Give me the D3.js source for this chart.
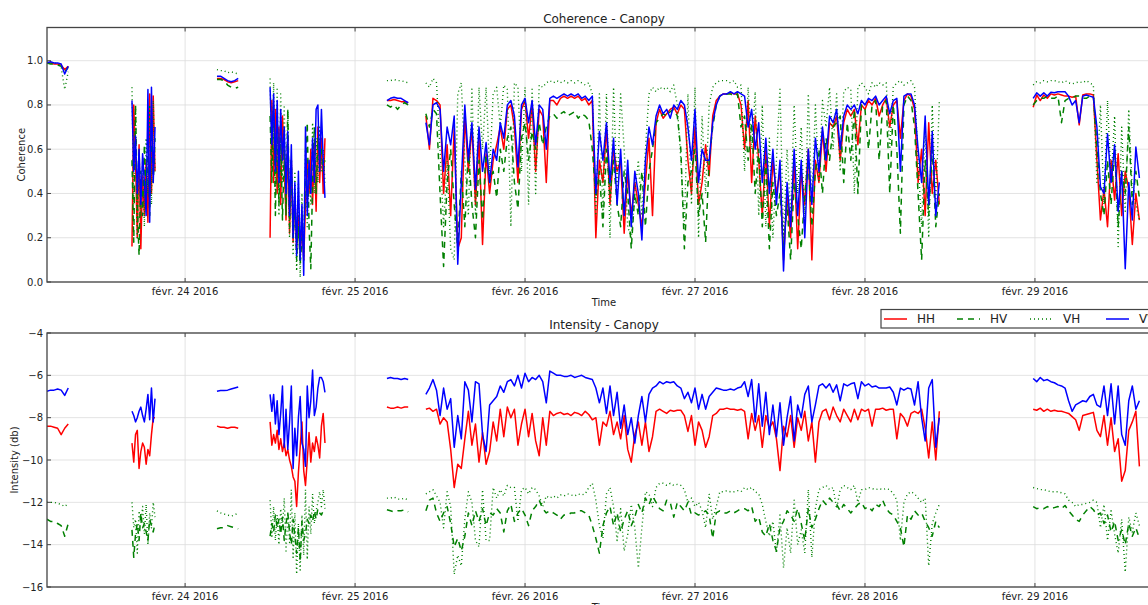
<!DOCTYPE html>
<html><head><meta charset="utf-8">
<script src="https://cdn.jsdelivr.net/npm/d3@7"></script>
<style>
body{margin:0;background:#fff;overflow:hidden}
svg{display:block;font-family:"DejaVu Sans",sans-serif}
</style>
</head><body>
<svg id="c" width="1148" height="605"></svg>
<script>
// ---------------- DATA ----------------
const seriesNames = ["HH", "HV", "VH", "VV"];
const segStart = ["2016-02-23T04:30:00Z", "2016-02-23T16:30:00Z", "2016-02-24T04:30:00Z",
  "2016-02-24T12:00:00Z", "2016-02-25T04:30:00Z", "2016-02-25T10:00:00Z", "2016-02-28T23:45:00Z"];
const segStepMin = [30, 15, 30, 15, 30, 30, 30];
const xDomain = ["2016-02-23T04:30:00Z", "2016-02-29T17:48:00Z"];
const xTickDates = ["2016-02-24T00:00:00Z", "2016-02-25T00:00:00Z", "2016-02-26T00:00:00Z",
  "2016-02-27T00:00:00Z", "2016-02-28T00:00:00Z", "2016-02-29T00:00:00Z"];
const xTickLabels = ["févr. 24 2016", "févr. 25 2016", "févr. 26 2016", "févr. 27 2016", "févr. 28 2016", "févr. 29 2016"];
const cohTicks = [0.0, 0.2, 0.4, 0.6, 0.8, 1.0];
const intTicks = [-16, -14, -12, -10, -8, -6, -4];

const cohHH = [
 [0.99,0.99,0.985,0.985,0.98,0.96,0.975],
 [0.16,0.80,0.55,0.20,0.62,0.15,0.48,0.30,0.55,0.27,0.85,0.40,0.84,0.50],
 [0.92,0.92,0.915,0.905,0.90,0.905,0.91],
 [0.20,0.82,0.45,0.78,0.40,0.70,0.35,0.75,0.55,0.28,0.65,0.22,0.55,0.18,0.40,0.15,0.30,0.12,0.25,0.10,0.35,0.55,0.40,0.60,0.35,0.62,0.32,0.70,0.45,0.65,0.40,0.65],
 [0.82,0.82,0.825,0.82,0.815,0.815,0.81],
 [0.75,0.60,0.83,0.82,0.80,0.40,0.62,0.30,0.70,0.15,
  0.20,0.75,0.50,0.70,0.35,0.65,0.17,0.58,0.40,0.55,
  0.62,0.70,0.60,0.78,0.80,0.70,0.45,0.78,0.82,0.65,
  0.80,0.50,0.78,0.75,0.45,0.82,0.82,0.80,0.83,0.84,
  0.83,0.84,0.83,0.84,0.82,0.83,0.80,0.82,0.20,0.55,
  0.45,0.70,0.35,0.60,0.50,0.55,0.22,0.50,0.30,0.45,
  0.35,0.25,0.45,0.65,0.30,0.72,0.78,0.74,0.76,0.78,
  0.79,0.76,0.80,0.78,0.55,0.40,0.70,0.35,0.45,0.62,
  0.48,0.75,0.82,0.84,0.85,0.85,0.855,0.85,0.85,0.80,
  0.60,0.82,0.45,0.75,0.55,0.30,0.60,0.25,0.55,0.40,
  0.50,0.10,0.40,0.20,0.55,0.15,0.50,0.35,0.60,0.10,
  0.55,0.45,0.68,0.50,0.72,0.70,0.75,0.55,0.72,0.78,
  0.75,0.78,0.62,0.80,0.78,0.82,0.80,0.83,0.75,0.80,
  0.83,0.70,0.80,0.82,0.65,0.82,0.85,0.84,0.78,0.45,
  0.60,0.30,0.72,0.40,0.55,0.35],
 [0.79,0.845,0.82,0.845,0.83,0.85,0.845,0.85,0.845,0.84,0.84,0.835,0.84,0.71,0.845,0.85,0.85,0.845,0.55,0.28,0.42,0.25,0.55,0.37,0.58,0.30,0.50,0.42,0.17,0.40,0.28]
];
const cohHV = [
 [0.99,0.985,0.985,0.98,0.975,0.95,0.97],
 [0.55,0.18,0.80,0.35,0.12,0.50,0.30,0.62,0.35,0.60,0.30,0.75,0.45,0.65],
 [0.915,0.915,0.91,0.89,0.88,0.875,0.88],
 [0.75,0.45,0.80,0.30,0.72,0.35,0.65,0.28,0.60,0.30,0.78,0.25,0.55,0.20,0.35,0.10,0.25,0.08,0.20,0.15,0.50,0.72,0.25,0.06,0.45,0.70,0.40,0.65,0.55,0.60,0.50,0.55],
 [0.80,0.79,0.80,0.78,0.80,0.81,0.80],
 [0.76,0.70,0.78,0.76,0.40,0.07,0.45,0.60,0.35,0.15,
  0.50,0.25,0.60,0.35,0.20,0.55,0.28,0.60,0.45,0.50,
  0.38,0.60,0.50,0.65,0.70,0.45,0.33,0.65,0.72,0.55,
  0.68,0.60,0.72,0.62,0.70,0.75,0.76,0.74,0.76,0.77,
  0.75,0.76,0.77,0.74,0.76,0.75,0.73,0.60,0.38,0.50,
  0.25,0.60,0.40,0.55,0.35,0.25,0.50,0.40,0.15,0.40,
  0.30,0.50,0.25,0.50,0.60,0.72,0.74,0.76,0.75,0.77,
  0.78,0.75,0.60,0.15,0.45,0.50,0.60,0.30,0.40,0.18,
  0.55,0.70,0.80,0.84,0.85,0.85,0.85,0.84,0.85,0.70,
  0.75,0.55,0.72,0.40,0.60,0.25,0.55,0.15,0.45,0.30,
  0.40,0.15,0.35,0.10,0.45,0.30,0.15,0.40,0.55,0.25,
  0.50,0.60,0.40,0.65,0.55,0.70,0.72,0.75,0.45,0.72,
  0.55,0.78,0.40,0.80,0.78,0.60,0.80,0.82,0.55,0.80,
  0.82,0.40,0.80,0.60,0.22,0.80,0.84,0.82,0.70,0.40,
  0.10,0.55,0.30,0.60,0.25,0.40],
 [0.80,0.82,0.83,0.83,0.84,0.83,0.83,0.84,0.72,0.82,0.83,0.83,0.84,0.84,0.83,0.83,0.84,0.84,0.62,0.40,0.30,0.55,0.35,0.60,0.25,0.50,0.40,0.70,0.35,0.50,0.38]
];
const cohVH = [
 [0.995,0.99,0.99,0.985,0.97,0.87,0.95],
 [0.88,0.35,0.78,0.20,0.60,0.30,0.55,0.25,0.65,0.40,0.80,0.35,0.82,0.50],
 [0.96,0.955,0.955,0.945,0.95,0.945,0.94],
 [0.92,0.50,0.90,0.40,0.88,0.30,0.85,0.45,0.80,0.35,0.78,0.20,0.55,0.12,0.50,0.05,0.45,0.02,0.40,0.10,0.60,0.25,0.50,0.35,0.72,0.40,0.65,0.45,0.70,0.50,0.60,0.45],
 [0.91,0.91,0.915,0.91,0.91,0.905,0.90],
 [0.90,0.88,0.92,0.90,0.60,0.25,0.55,0.15,0.10,0.85,
  0.90,0.55,0.30,0.88,0.30,0.88,0.60,0.88,0.50,0.85,
  0.88,0.70,0.89,0.87,0.25,0.90,0.88,0.50,0.88,0.35,
  0.88,0.40,0.89,0.88,0.90,0.91,0.90,0.91,0.90,0.91,
  0.90,0.91,0.90,0.91,0.90,0.89,0.90,0.85,0.30,0.85,
  0.30,0.85,0.20,0.88,0.40,0.85,0.60,0.25,0.20,0.40,
  0.55,0.30,0.60,0.85,0.88,0.86,0.88,0.87,0.88,0.86,
  0.89,0.80,0.55,0.25,0.85,0.35,0.88,0.20,0.75,0.40,
  0.80,0.88,0.90,0.91,0.91,0.91,0.90,0.91,0.88,0.89,
  0.50,0.88,0.60,0.86,0.30,0.80,0.25,0.65,0.20,0.55,
  0.88,0.20,0.60,0.30,0.80,0.40,0.70,0.25,0.85,0.35,
  0.80,0.45,0.82,0.70,0.88,0.60,0.85,0.50,0.86,0.88,
  0.87,0.40,0.88,0.90,0.88,0.85,0.90,0.88,0.90,0.89,
  0.90,0.60,0.88,0.90,0.91,0.89,0.90,0.91,0.88,0.55,
  0.25,0.70,0.20,0.80,0.35,0.82],
 [0.89,0.905,0.90,0.91,0.905,0.91,0.91,0.905,0.90,0.91,0.90,0.895,0.90,0.905,0.90,0.91,0.90,0.89,0.45,0.80,0.35,0.82,0.45,0.75,0.16,0.70,0.32,0.78,0.40,0.35,0.28]
];
const cohVV = [
 [0.99,0.995,0.99,0.99,0.985,0.94,0.975],
 [0.82,0.50,0.66,0.40,0.60,0.35,0.58,0.45,0.30,0.87,0.27,0.88,0.45,0.70],
 [0.93,0.93,0.92,0.91,0.905,0.91,0.92],
 [0.88,0.62,0.85,0.50,0.82,0.45,0.78,0.55,0.70,0.40,0.68,0.30,0.62,0.20,0.45,0.12,0.50,0.10,0.35,0.03,0.70,0.30,0.55,0.40,0.65,0.45,0.78,0.80,0.50,0.78,0.55,0.38],
 [0.82,0.83,0.835,0.83,0.83,0.82,0.81],
 [0.72,0.62,0.80,0.81,0.78,0.50,0.70,0.62,0.75,0.08,
  0.45,0.80,0.55,0.72,0.42,0.70,0.50,0.63,0.45,0.60,
  0.55,0.72,0.65,0.80,0.82,0.75,0.52,0.80,0.83,0.72,
  0.82,0.62,0.80,0.78,0.60,0.83,0.84,0.83,0.84,0.85,
  0.84,0.85,0.84,0.85,0.83,0.84,0.82,0.84,0.40,0.68,
  0.55,0.72,0.45,0.65,0.35,0.60,0.30,0.55,0.25,0.50,
  0.40,0.19,0.55,0.70,0.62,0.75,0.80,0.76,0.78,0.74,
  0.80,0.78,0.82,0.80,0.70,0.55,0.78,0.45,0.60,0.55,
  0.55,0.72,0.80,0.84,0.85,0.85,0.86,0.85,0.86,0.85,
  0.84,0.70,0.78,0.60,0.72,0.45,0.65,0.40,0.60,0.35,
  0.55,0.05,0.45,0.25,0.60,0.30,0.55,0.20,0.60,0.35,
  0.65,0.50,0.70,0.55,0.75,0.72,0.78,0.60,0.75,0.80,
  0.78,0.80,0.76,0.82,0.80,0.83,0.82,0.84,0.80,0.82,
  0.84,0.76,0.82,0.83,0.50,0.84,0.85,0.85,0.80,0.60,
  0.45,0.75,0.35,0.68,0.30,0.45],
 [0.83,0.855,0.84,0.855,0.84,0.857,0.855,0.86,0.86,0.86,0.84,0.80,0.82,0.72,0.84,0.845,0.84,0.835,0.70,0.43,0.40,0.67,0.45,0.62,0.32,0.50,0.06,0.45,0.28,0.61,0.47]
];

const intHH = [
 [-8.4,-8.4,-8.45,-8.5,-8.8,-8.5,-8.3],
 [-9.2,-10.1,-8.8,-8.6,-10.4,-9.6,-9.2,-9.4,-10.2,-9.5,-9.8,-8.8,-8.0,-8.0],
 [-8.4,-8.45,-8.45,-8.5,-8.45,-8.45,-8.5],
 [-8.2,-9.3,-8.8,-9.2,-8.6,-9.5,-9.0,-9.6,-9.2,-9.8,-9.5,-10.0,-10.3,-10.8,-11.0,-12.2,-10.6,-9.4,-8.2,-10.5,-11.2,-10.0,-8.7,-10.1,-9.2,-9.6,-8.9,-9.3,-9.9,-8.4,-7.8,-9.2],
 [-7.5,-7.55,-7.55,-7.5,-7.55,-7.5,-7.5],
 [-7.6,-7.55,-7.7,-7.6,-8.3,-8.0,-8.2,-9.5,-11.3,-10.2,
  -10.4,-9.0,-7.7,-9.3,-8.3,-10.1,-8.7,-10.2,-9.6,-8.2,
  -9.1,-7.6,-8.9,-7.5,-8.0,-7.6,-9.3,-8.3,-7.6,-8.9,
  -7.8,-9.1,-9.8,-8.0,-9.3,-7.7,-7.9,-7.8,-7.75,-7.85,
  -7.8,-7.9,-7.75,-7.8,-7.9,-7.7,-7.85,-8.1,-8.0,-9.3,
  -8.2,-8.4,-7.7,-8.8,-8.2,-9.0,-7.9,-9.5,-10.1,-8.8,
  -8.2,-9.3,-8.2,-9.6,-8.9,-7.7,-7.6,-7.7,-7.8,-7.65,
  -7.7,-7.65,-7.65,-7.9,-8.65,-7.9,-9.3,-8.2,-8.6,-9.4,
  -8.9,-7.9,-7.8,-7.6,-7.6,-7.55,-7.6,-7.6,-7.65,-7.6,
  -7.7,-9.0,-7.8,-8.6,-7.9,-9.4,-7.9,-8.5,-8.2,-9.0,
  -10.5,-8.4,-8.9,-7.9,-9.4,-8.0,-8.6,-7.7,-9.1,-8.2,
  -10.1,-8.2,-7.7,-7.6,-8.1,-7.5,-7.9,-8.2,-7.6,-7.9,
  -8.2,-7.6,-8.1,-7.6,-7.7,-7.6,-8.4,-7.6,-7.6,-7.55,
  -7.65,-7.6,-7.6,-9.0,-7.8,-8.0,-8.4,-7.8,-7.7,-7.8,
  -7.6,-8.5,-9.9,-8.2,-10.0,-7.7],
 [-7.6,-7.65,-7.55,-7.7,-7.6,-7.7,-7.65,-7.7,-7.7,-7.75,-7.8,-7.95,-8.1,-8.6,-7.9,-7.85,-7.8,-7.75,-8.6,-8.9,-7.9,-9.3,-8.0,-9.6,-9.0,-11.0,-10.5,-8.6,-8.2,-7.7,-10.3]
];
const intHV = [
 [-12.8,-12.9,-12.9,-13.0,-13.1,-13.6,-13.0],
 [-13.3,-14.6,-13.5,-13.0,-13.8,-12.5,-13.2,-13.0,-13.4,-13.8,-12.8,-13.1,-13.4,-13.0],
 [-13.25,-13.2,-13.2,-13.1,-13.15,-13.2,-13.25],
 [-13.6,-13.0,-13.4,-12.6,-13.2,-12.8,-13.5,-12.7,-13.8,-13.0,-12.5,-13.4,-14.0,-12.8,-13.6,-14.4,-13.2,-14.8,-12.9,-13.8,-13.5,-12.8,-13.0,-12.6,-12.9,-12.4,-12.8,-12.3,-12.5,-12.6,-12.4,-12.5],
 [-12.35,-12.4,-12.45,-12.4,-12.4,-12.35,-12.45],
 [-12.4,-11.9,-11.8,-12.5,-12.9,-12.5,-12.2,-13.0,-14.1,-13.7,
  -14.3,-13.6,-12.5,-13.1,-12.4,-12.9,-12.3,-13.1,-12.5,-12.6,
  -12.3,-12.5,-13.4,-12.4,-12.1,-12.9,-12.5,-12.3,-12.6,-13.1,
  -12.4,-12.2,-11.9,-12.3,-12.5,-12.4,-12.5,-12.6,-12.8,-12.6,
  -12.6,-12.5,-12.5,-12.4,-12.4,-12.5,-12.6,-13.1,-13.7,-14.4,
  -13.1,-12.5,-12.2,-13.1,-12.5,-13.4,-12.8,-12.4,-13.1,-12.7,
  -12.1,-12.5,-11.8,-12.1,-11.7,-12.0,-12.3,-12.4,-11.9,-12.0,
  -12.7,-12.0,-12.2,-12.4,-12.0,-12.6,-12.5,-12.6,-12.5,-12.4,
  -12.6,-13.7,-12.5,-12.4,-12.5,-12.5,-12.4,-12.5,-12.4,-12.3,
  -12.3,-12.4,-12.2,-12.9,-12.7,-13.4,-13.6,-13.0,-13.8,-14.3,
  -13.2,-12.9,-12.4,-12.6,-12.9,-12.3,-13.0,-13.8,-12.3,-13.2,
  -12.8,-12.3,-11.9,-12.1,-11.8,-12.0,-12.1,-12.4,-12.1,-12.3,
  -12.5,-12.3,-12.1,-12.0,-12.3,-12.2,-12.4,-12.1,-12.2,-11.9,
  -12.3,-12.5,-12.6,-12.9,-13.2,-14.1,-12.6,-12.8,-12.4,-12.6,
  -12.5,-12.9,-13.2,-13.6,-12.9,-13.2],
 [-12.2,-12.3,-12.25,-12.3,-12.2,-12.3,-12.25,-12.2,-12.3,-12.15,-12.4,-12.6,-12.8,-12.9,-12.6,-12.4,-12.2,-12.35,-12.6,-12.5,-13.0,-12.6,-13.4,-12.9,-13.8,-13.3,-14.0,-13.0,-13.6,-13.2,-13.7]
];
const intVH = [
 [-12.0,-12.0,-12.0,-12.05,-12.1,-12.2,-12.05],
 [-12.0,-13.2,-12.8,-14.4,-12.4,-13.0,-12.2,-13.5,-12.1,-14.0,-12.5,-13.2,-12.0,-12.7],
 [-12.4,-12.5,-12.55,-12.6,-12.65,-12.6,-12.5],
 [-11.9,-13.6,-12.2,-13.8,-12.6,-14.0,-12.3,-13.2,-11.8,-14.3,-12.6,-13.9,-11.4,-14.6,-12.5,-15.4,-13.0,-15.2,-12.6,-14.5,-11.4,-14.7,-12.2,-13.5,-11.6,-13.0,-12.4,-12.0,-11.5,-12.2,-11.4,-12.3],
 [-11.8,-11.8,-11.75,-11.85,-11.85,-11.8,-11.9],
 [-11.6,-11.5,-11.4,-11.7,-12.0,-13.2,-11.5,-12.2,-15.4,-14.5,
  -15.0,-12.8,-11.5,-12.0,-13.8,-14.1,-11.4,-13.8,-13.8,-11.3,
  -11.8,-11.4,-11.7,-11.2,-11.3,-11.3,-12.9,-11.4,-11.3,-11.6,
  -11.3,-11.4,-11.7,-12.2,-11.7,-11.8,-11.7,-11.8,-11.65,-11.7,
  -11.6,-11.65,-11.7,-11.6,-11.65,-11.6,-11.3,-11.1,-11.9,-13.1,
  -13.7,-11.6,-11.3,-12.2,-13.8,-12.3,-14.3,-13.5,-12.1,-13.2,
  -15.1,-13.2,-11.5,-11.6,-12.2,-11.3,-11.1,-11.1,-11.2,-11.1,
  -11.2,-11.15,-11.2,-11.4,-12.0,-11.8,-12.2,-12.0,-12.4,-13.2,
  -11.6,-12.8,-12.2,-11.5,-11.5,-11.45,-11.5,-11.5,-11.45,-11.5,
  -11.3,-11.4,-11.3,-11.5,-11.6,-12.1,-12.9,-13.6,-12.9,-14.4,
  -12.6,-15.1,-13.2,-14.4,-11.9,-14.0,-13.3,-14.4,-11.4,-14.6,
  -12.3,-11.4,-11.3,-11.2,-11.4,-11.3,-12.3,-11.4,-11.2,-11.3,
  -11.4,-11.2,-12.0,-11.4,-11.4,-11.3,-11.35,-11.4,-11.35,-11.4,
  -11.35,-11.4,-11.6,-11.9,-13.8,-12.0,-11.6,-11.5,-11.6,-11.8,
  -12.0,-11.8,-15.0,-13.0,-12.5,-12.1],
 [-11.3,-11.35,-11.4,-11.4,-11.45,-11.5,-11.5,-11.5,-11.55,-11.6,-11.9,-12.0,-12.2,-12.1,-12.1,-12.05,-12.0,-11.9,-12.0,-13.2,-12.1,-13.8,-12.4,-13.5,-14.4,-12.8,-15.3,-12.7,-13.4,-12.5,-13.1]
];
const intVV = [
 [-6.75,-6.7,-6.7,-6.65,-6.7,-6.95,-6.6],
 [-7.7,-7.9,-8.2,-8.0,-7.7,-7.5,-7.9,-8.2,-7.6,-6.9,-8.1,-6.6,-8.2,-7.1],
 [-6.75,-6.72,-6.72,-6.7,-6.65,-6.6,-6.55],
 [-6.9,-7.7,-6.9,-8.3,-7.2,-8.8,-7.8,-6.5,-9.4,-7.6,-9.5,-8.2,-6.5,-10.4,-8.5,-9.8,-8.0,-7.0,-9.2,-9.5,-10.3,-6.5,-8.0,-7.2,-5.75,-7.9,-7.5,-6.6,-6.1,-6.1,-6.3,-6.8],
 [-6.15,-6.1,-6.15,-6.15,-6.2,-6.15,-6.2],
 [-6.9,-6.6,-6.2,-6.7,-7.9,-6.6,-7.6,-7.1,-9.4,-7.9,
  -9.0,-6.3,-6.7,-8.2,-6.3,-6.4,-8.8,-9.6,-7.4,-7.2,
  -7.0,-6.5,-6.8,-6.3,-6.2,-6.5,-6.0,-6.6,-5.9,-6.3,
  -6.1,-6.2,-6.0,-6.3,-7.3,-5.8,-5.9,-6.0,-6.0,-6.05,
  -6.05,-6.0,-6.1,-6.05,-6.0,-6.1,-6.15,-6.2,-6.6,-7.3,
  -6.6,-7.8,-6.5,-7.9,-6.8,-8.5,-7.4,-8.8,-8.0,-9.2,
  -7.9,-7.0,-8.2,-6.9,-6.6,-6.5,-6.3,-6.4,-6.3,-6.35,
  -6.3,-6.5,-6.6,-7.1,-6.8,-7.3,-6.6,-7.6,-6.9,-7.6,
  -7.0,-6.8,-6.6,-6.65,-6.7,-6.7,-6.65,-6.7,-6.6,-6.55,
  -6.3,-7.0,-6.2,-8.2,-6.4,-8.4,-6.8,-8.8,-7.4,-8.9,
  -7.3,-9.3,-8.0,-7.0,-9.1,-7.4,-8.0,-6.9,-6.5,-8.2,
  -7.4,-6.5,-6.4,-6.6,-6.4,-6.8,-6.45,-7.2,-6.4,-6.5,
  -6.4,-6.35,-7.1,-6.3,-6.5,-6.4,-6.55,-6.5,-6.6,-6.6,
  -6.6,-6.55,-6.8,-7.4,-6.6,-6.7,-6.6,-6.65,-7.4,-6.3,
  -8.0,-9.1,-6.6,-6.2,-9.4,-8.0],
 [-6.15,-6.3,-6.1,-6.25,-6.2,-6.3,-6.35,-6.45,-6.5,-6.6,-7.2,-7.7,-7.4,-7.3,-7.2,-7.25,-7.0,-6.9,-7.4,-7.5,-6.5,-7.9,-6.4,-8.3,-6.5,-8.8,-9.3,-7.2,-6.5,-7.6,-7.2]
];

// ---------------- DRAWING ----------------
const W = 1148, H = 605;
const plotL = 47, plotR = 1161;
const svg = d3.select("#c");
const x = d3.scaleUtc().domain(xDomain.map(s => new Date(s))).range([plotL, plotR]);
const tickDates = xTickDates.map(s => new Date(s));

const styles = {
  HH: {color: "#ff0000", dash: null, w: 1.5},
  HV: {color: "#008000", dash: "6,5", w: 1.5},
  VH: {color: "#008000", dash: "1,3", w: 1.4},
  VV: {color: "#0000ff", dash: null, w: 1.5}
};

function toPoints(segs) {
  return segs.map((vals, k) => {
    const t0 = new Date(segStart[k]).getTime();
    return vals.map((v, i) => ({t: new Date(t0 + i * segStepMin[k] * 60000), v}));
  });
}

const panels = [
  {id: "coh", top: 27.5, bottom: 282, domain: [0, 1.15], ticks: cohTicks, fmt: d3.format(".1f"),
   title: "Coherence - Canopy", ylabel: "Coherence", ylabelX: 21.5,
   data: {HH: cohHH, HV: cohHV, VH: cohVH, VV: cohVV}},
  {id: "int", top: 333, bottom: 587, domain: [-16, -4], ticks: intTicks, fmt: d3.format("d"),
   title: "Intensity - Canopy", ylabel: "Intensity (db)", ylabelX: 14,
   data: {HH: intHH, HV: intHV, VH: intVH, VV: intVV}}
];

panels.forEach(p => {
  const y = d3.scaleLinear().domain(p.domain).range([p.bottom, p.top]);
  const g = svg.append("g");
  g.append("clipPath").attr("id", "clip-" + p.id).append("rect")
    .attr("x", plotL).attr("y", p.top).attr("width", plotR - plotL).attr("height", p.bottom - p.top);

  // grid
  g.append("g").selectAll("line").data(tickDates).join("line")
    .attr("x1", d => x(d)).attr("x2", d => x(d)).attr("y1", p.top).attr("y2", p.bottom)
    .attr("stroke", "#dcdcdc").attr("stroke-width", 0.8);
  g.append("g").selectAll("line").data(p.ticks).join("line")
    .attr("x1", plotL).attr("x2", plotR).attr("y1", d => y(d)).attr("y2", d => y(d))
    .attr("stroke", "#dcdcdc").attr("stroke-width", 0.8);

  // series
  const line = d3.line().x(d => x(d.t)).y(d => y(d.v));
  const lg = g.append("g").attr("clip-path", `url(#clip-${p.id})`);
  seriesNames.forEach(name => {
    const st = styles[name];
    toPoints(p.data[name]).forEach(seg => {
      lg.append("path").attr("d", line(seg)).attr("fill", "none")
        .attr("stroke", st.color).attr("stroke-width", st.w)
        .attr("stroke-dasharray", st.dash).attr("stroke-linejoin", "round");
    });
  });

  // frame
  g.append("rect").attr("x", plotL).attr("y", p.top).attr("width", plotR - plotL).attr("height", p.bottom - p.top)
    .attr("fill", "none").attr("stroke", "#444").attr("stroke-width", 1.3);

  // ticks (inward)
  g.append("g").selectAll("line").data(tickDates).join("line")
    .attr("x1", d => x(d)).attr("x2", d => x(d)).attr("y1", p.bottom).attr("y2", p.bottom - 4)
    .attr("stroke", "#444");
  g.append("g").selectAll("line").data(tickDates).join("line")
    .attr("x1", d => x(d)).attr("x2", d => x(d)).attr("y1", p.top).attr("y2", p.top + 4)
    .attr("stroke", "#444");
  g.append("g").selectAll("line").data(p.ticks).join("line")
    .attr("x1", plotL).attr("x2", plotL + 4).attr("y1", d => y(d)).attr("y2", d => y(d))
    .attr("stroke", "#444");

  // x tick labels
  g.append("g").selectAll("text").data(tickDates).join("text")
    .attr("x", d => x(d)).attr("y", p.bottom + 13)
    .attr("text-anchor", "middle").attr("font-size", 10).attr("fill", "#222")
    .text((d, i) => xTickLabels[i]);
  // y tick labels
  g.append("g").selectAll("text").data(p.ticks).join("text")
    .attr("x", plotL - 4).attr("y", d => y(d)).attr("dy", "0.35em")
    .attr("text-anchor", "end").attr("font-size", 10).attr("fill", "#222")
    .text(d => p.fmt(d));

  // title
  g.append("text").attr("x", (plotL + plotR) / 2).attr("y", p.top - 4.5)
    .attr("text-anchor", "middle").attr("font-size", 12).attr("fill", "#222").text(p.title);
  // x label
  g.append("text").attr("x", (plotL + plotR) / 2).attr("y", p.bottom + 24)
    .attr("text-anchor", "middle").attr("font-size", 10).attr("fill", "#222").text("Time");
  // y label
  g.append("text").attr("transform", `translate(${p.ylabelX},${(p.top + p.bottom) / 2}) rotate(-90)`)
    .attr("text-anchor", "middle").attr("dy", "0.35em").attr("font-size", 10).attr("fill", "#222").text(p.ylabel);
});

// legend
const leg = svg.append("g");
leg.append("rect").attr("x", 881).attr("y", 309.5).attr("width", 320).attr("height", 18.5)
  .attr("fill", "#fff").attr("stroke", "#444").attr("stroke-width", 1.2);
const legX = {HH: 884, HV: 957, VH: 1030, VV: 1106};
seriesNames.forEach(name => {
  const st = styles[name];
  leg.append("line").attr("x1", legX[name]).attr("x2", legX[name] + 23).attr("y1", 319).attr("y2", 319)
    .attr("stroke", st.color).attr("stroke-width", st.w).attr("stroke-dasharray", st.dash);
  leg.append("text").attr("x", legX[name] + 33).attr("y", 319).attr("dy", "0.36em")
    .attr("font-size", 12).attr("fill", "#222").text(name);
});
</script>
</body></html>
